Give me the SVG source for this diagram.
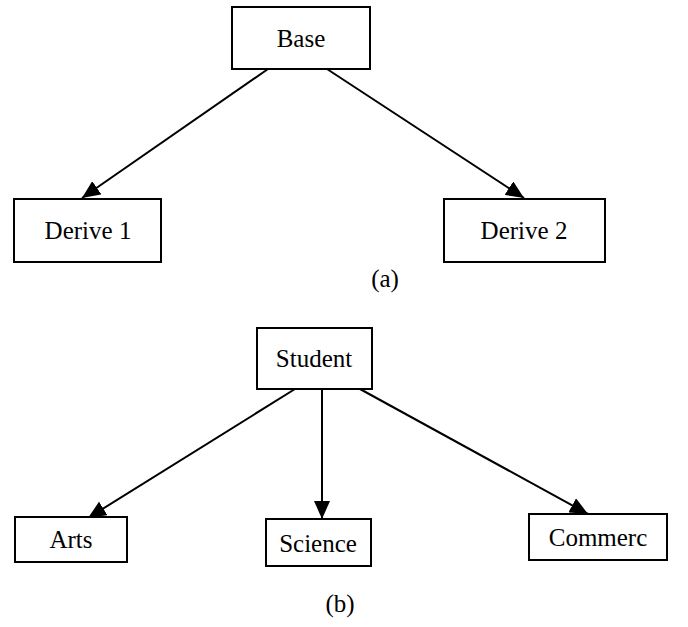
<svg xmlns="http://www.w3.org/2000/svg" width="688" height="627" viewBox="0 0 688 627">
<defs>
<style>
.box{fill:#fff;stroke:#000;stroke-width:2}
.t{font-family:'Liberation Serif','Times New Roman',Times,serif;font-size:25px;fill:#000;text-anchor:middle}
.c{stroke:#000;stroke-width:2;fill:none;marker-end:url(#ah)}
</style>
<marker id="ah" markerUnits="userSpaceOnUse" markerWidth="20" markerHeight="16" refX="18" refY="8" orient="auto">
<path d="M0,0 L18,8 L0,16 Z" fill="#000"/>
</marker>
</defs>
<rect width="688" height="627" fill="#fff"/>
<g id="connectors">
<line class="c" x1="268" y1="69" x2="82" y2="198"/>
<line class="c" x1="327" y1="69" x2="524" y2="198"/>
<line class="c" x1="295" y1="389" x2="88" y2="518"/>
<line class="c" x1="322" y1="389" x2="322" y2="519"/>
<line class="c" x1="360" y1="389" x2="588" y2="514"/>
</g>
<g id="base"><rect class="box" x="232" y="7" width="138" height="62"/><text class="t" x="301" y="47">Base</text></g>
<g id="derive1"><rect class="box" x="14" y="199" width="147" height="63"/><text class="t" x="88" y="239">Derive 1</text></g>
<g id="derive2"><rect class="box" x="444" y="199" width="161" height="63"/><text class="t" x="524" y="239">Derive 2</text></g>
<g id="label-a"><text class="t" x="385" y="287">(a)</text></g>
<g id="student"><rect class="box" x="257" y="328" width="115" height="61"/><text class="t" x="314" y="367">Student</text></g>
<g id="arts"><rect class="box" x="15" y="517" width="112" height="45"/><text class="t" x="71" y="548">Arts</text></g>
<g id="science"><rect class="box" x="266" y="519" width="105" height="47"/><text class="t" x="318" y="552">Science</text></g>
<g id="commerc"><rect class="box" x="529" y="514" width="138" height="46"/><text class="t" x="598" y="546">Commerc</text></g>
<g id="label-b"><text class="t" x="340" y="612">(b)</text></g>
</svg>
